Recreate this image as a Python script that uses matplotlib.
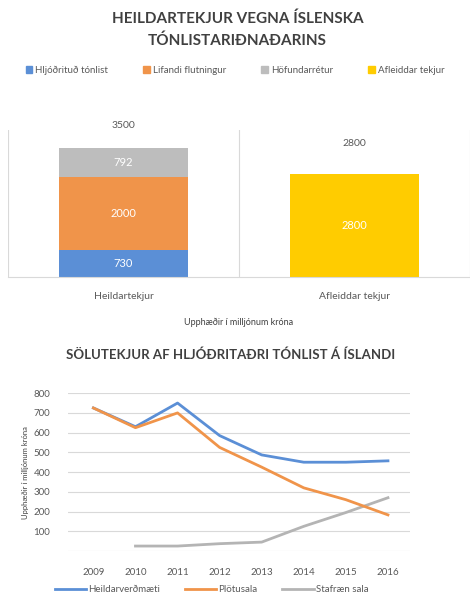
"""Icelandic music industry revenue: stacked bars plus recorded music sales lines."""

import matplotlib

matplotlib.use("Agg")
import matplotlib.pyplot as plt
from matplotlib.lines import Line2D
from matplotlib.patches import Patch

plt.rcParams["font.family"] = ["Lato", "DejaVu Sans"]

# top chart
bar_categories = ["Heildartekjur", "Afleiddar tekjur"]
recorded = [730, 0]
live = [2000, 0]
copyright_fees = [792, 0]
derived = [0, 2800]
total_labels = ["3500", "2800"]
bar_series_names = ["Hljóðrituð tónlist", "Lifandi flutningur", "Höfundarrétur", "Afleiddar tekjur"]

# bottom chart
years = ["2009", "2010", "2011", "2012", "2013", "2014", "2015", "2016"]
total_value = [725, 630, 750, 585, 487, 450, 450, 457]
physical_sales = [725, 625, 700, 525, 425, 320, 260, 183]
digital_sales = [None, 25, 25, 37, 45, 125, 195, 270]
line_names = ["Heildarverðmæti", "Plötusala", "Stafræn sala"]

BLUE = "#5B8FD6"
ORANGE = "#F0944A"
GRAY = "#BDBDBD"
YELLOW = "#FFCC00"
LINE_GRAY = "#B4B4B4"
TEXT = "#595959"
TITLE = "#404040"
GRID = "#D9D9D9"

fig = plt.figure(figsize=(4.7, 6.0), dpi=100)
fig.patch.set_facecolor("white")

# ---- top chart ----
fig.text(0.505, 0.968, "HEILDARTEKJUR VEGNA ÍSLENSKA", ha="center", va="center",
         fontsize=11, fontweight="bold", color=TITLE)
fig.text(0.505, 0.932, "TÓNLISTARIÐNAÐARINS", ha="center", va="center",
         fontsize=11, fontweight="bold", color=TITLE)

ax1 = fig.add_axes([0.017, 0.538, 0.983, 0.245])
x = range(len(bar_categories))
width = 0.56
bottom2 = [a + b for a, b in zip(recorded, live)]
bottom3 = [a + b for a, b in zip(bottom2, copyright_fees)]
layers = [
    (recorded, [0, 0], BLUE),
    (live, recorded, ORANGE),
    (copyright_fees, bottom2, GRAY),
    (derived, bottom3, YELLOW),
]
for values, bottoms, color in layers:
    bars = ax1.bar(x, values, width, bottom=bottoms, color=color, zorder=2)
    for bar, v in zip(bars, values):
        if v:
            ax1.text(bar.get_x() + bar.get_width() / 2, bar.get_y() + v / 2, str(v),
                     ha="center", va="center", color="white", fontsize=8)

stack_tops = [a + b for a, b in zip(bottom3, derived)]
label_offsets = [16, 22]
for i, (top, lab) in enumerate(zip(stack_tops, total_labels)):
    ax1.annotate(lab, (i, top), xytext=(0, label_offsets[i]), textcoords="offset points",
                 ha="center", va="center", fontsize=7.5, color=TEXT, annotation_clip=False)

ax1.set_xlim(-0.5, 1.5)
ax1.set_ylim(0, 4000)
ax1.set_yticks([])
ax1.set_xticks(list(x))
ax1.set_xticklabels(bar_categories, fontsize=7.5, color=TEXT)
ax1.tick_params(axis="x", length=0, pad=11)
for side in ["top", "left", "right"]:
    ax1.spines[side].set_visible(False)
ax1.spines["bottom"].set_color(GRID)
for xv in [-0.5, 0.5, 1.5]:
    ax1.axvline(xv, color=GRID, linewidth=0.8, zorder=1)
ax1.set_xlabel("Upphæðir í milljónum króna", fontsize=6.5, color="#404040", labelpad=12)

handles = [Patch(color=c) for c in [BLUE, ORANGE, GRAY, YELLOW]]
fig.legend(handles, bar_series_names, loc="center", bbox_to_anchor=(0.5, 0.883), ncol=4,
           frameon=False, fontsize=7, labelcolor=TEXT, handlelength=0.7, handleheight=0.7,
           handletextpad=0.3, columnspacing=3.6)

# ---- bottom chart ----
fig.text(0.49, 0.408, "SÖLUTEKJUR AF HLJÓÐRITAÐRI TÓNLIST Á ÍSLANDI", ha="center", va="center",
         fontsize=9.5, fontweight="bold", color=TITLE)

ax2 = fig.add_axes([0.145, 0.0817, 0.727, 0.263])
xi = list(range(len(years)))
ax2.plot(xi, total_value, color=BLUE, linewidth=2.0, zorder=3)
ax2.plot(xi, physical_sales, color=ORANGE, linewidth=2.0, zorder=4)
dx = [i for i, v in zip(xi, digital_sales) if v is not None]
dv = [v for v in digital_sales if v is not None]
ax2.plot(dx, dv, color=LINE_GRAY, linewidth=2.0, zorder=2)

ax2.set_xlim(-0.6, 7.52)
ax2.set_ylim(0, 800)
ax2.set_yticks(range(0, 801, 100))
ax2.set_yticklabels([""] + [str(v) for v in range(100, 801, 100)], fontsize=7, color=TEXT)
ax2.set_xticks(xi)
ax2.set_xticklabels(years, fontsize=7, color=TEXT)
ax2.tick_params(axis="both", length=0)
ax2.tick_params(axis="x", pad=12)
ax2.tick_params(axis="y", pad=13)
ax2.grid(axis="y", color=GRID, linewidth=0.8, zorder=0)
for spine in ax2.spines.values():
    spine.set_visible(False)
ax2.set_ylabel("Upphæðir í milljónum króna", fontsize=5.5, color="#404040", labelpad=2)
ax2.yaxis.set_label_coords(-0.115, 0.5)

line_handles = [Line2D([], [], color=c, linewidth=2.0) for c in [BLUE, ORANGE, LINE_GRAY]]
fig.legend(line_handles, line_names, loc="center", bbox_to_anchor=(0.45, 0.017), ncol=3,
           frameon=False, fontsize=7, labelcolor=TEXT, handlelength=3.2,
           handletextpad=0.2, columnspacing=2.6)

fig.savefig("out.png", dpi=100, facecolor="white")
